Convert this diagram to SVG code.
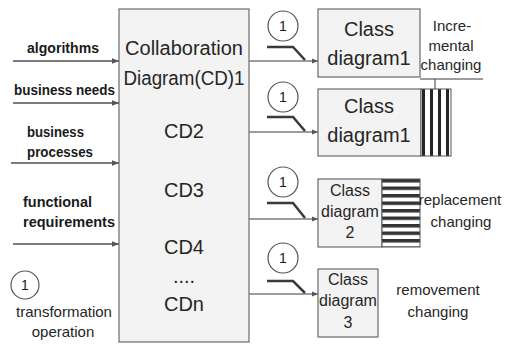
<svg xmlns="http://www.w3.org/2000/svg" width="508" height="345" viewBox="0 0 508 345">
<defs>
<style>
.box{fill:#f3f3f3;stroke:#6b6b6b;stroke-width:1.2}
.big{font-family:"Liberation Sans",Arial,sans-serif;font-size:20px;fill:#262626;text-anchor:middle}
.mid{font-family:"Liberation Sans",Arial,sans-serif;font-size:16px;fill:#262626;text-anchor:middle}
.lbl{font-family:"Liberation Sans",Arial,sans-serif;font-size:15px;font-weight:bold;fill:#1a1a1a}
.note{font-family:"Liberation Sans",Arial,sans-serif;font-size:15px;fill:#262626;text-anchor:middle}
.conn{stroke:#3a3a3a;stroke-width:1;fill:none}
.inp{stroke:#505050;stroke-width:1.3;fill:none}
.sym{stroke:#3a3a3a;stroke-width:2.5;fill:none}
.circ{fill:#ffffff;stroke:#555;stroke-width:1.2}
.num{font-family:"Liberation Sans",Arial,sans-serif;font-size:14px;fill:#1a1a1a;text-anchor:middle}
</style>
<marker id="ah" viewBox="0 0 10 10" refX="10" refY="5" markerWidth="6" markerHeight="6" markerUnits="userSpaceOnUse" orient="auto">
<path d="M0,1 L10,5 L0,9 z" fill="#555"/>
</marker>
<marker id="ah2" viewBox="0 0 10 10" refX="10" refY="5" markerWidth="8" markerHeight="7" markerUnits="userSpaceOnUse" orient="auto">
<path d="M0,1 L10,5 L0,9 z" fill="#555"/>
</marker>
<pattern id="vstripe" x="421" y="0" width="8" height="10" patternUnits="userSpaceOnUse">
<rect width="8" height="10" fill="#fff"/>
<rect x="1" width="3" height="10" fill="#262626"/>
</pattern>
<pattern id="hstripe" x="0" y="179" width="10" height="7.5" patternUnits="userSpaceOnUse">
<rect width="10" height="7.5" fill="#fff"/>
<rect y="0" width="10" height="3.5" fill="#333"/>
</pattern>
</defs>

<g id="connectors">
<line class="inp" x1="13" y1="61" x2="119" y2="61" marker-end="url(#ah2)"/>
<line class="inp" x1="13" y1="103" x2="119" y2="103" marker-end="url(#ah2)"/>
<line class="inp" x1="11" y1="163" x2="119" y2="163" marker-end="url(#ah2)"/>
<line class="inp" x1="13" y1="244" x2="119" y2="244" marker-end="url(#ah2)"/>
<line class="conn" x1="249" y1="61" x2="318" y2="61" marker-end="url(#ah)"/>
<line class="conn" x1="249" y1="132" x2="318" y2="132" marker-end="url(#ah)"/>
<line class="conn" x1="249" y1="219" x2="318" y2="219" marker-end="url(#ah)"/>
<line class="conn" x1="249" y1="294" x2="318" y2="294" marker-end="url(#ah)"/>
<polyline class="conn" points="420,79 483,79"/>
<polyline class="conn" points="435,79 435,89"/>
</g>

<g id="inputs">
<text class="lbl" x="27" y="53" textLength="72" lengthAdjust="spacingAndGlyphs">algorithms</text>
<text class="lbl" x="14" y="95" textLength="101" lengthAdjust="spacingAndGlyphs">business needs</text>
<text class="lbl" x="27" y="137" textLength="57" lengthAdjust="spacingAndGlyphs">business</text>
<text class="lbl" x="27" y="157" textLength="66" lengthAdjust="spacingAndGlyphs">processes</text>
<text class="lbl" x="23" y="207" textLength="69" lengthAdjust="spacingAndGlyphs">functional</text>
<text class="lbl" x="23" y="227" textLength="92" lengthAdjust="spacingAndGlyphs">requirements</text>
</g>

<g id="main">
<rect class="box" x="119" y="9" width="130" height="333"/>
<text class="big" x="184" y="55">Collaboration</text>
<text class="big" x="184" y="85" textLength="121" lengthAdjust="spacingAndGlyphs">Diagram(CD)1</text>
<text class="big" x="184" y="138">CD2</text>
<text class="big" x="184" y="197">CD3</text>
<text class="big" x="184" y="254">CD4</text>
<text class="big" x="184" y="283">....</text>
<text class="big" x="184" y="311">CDn</text>
</g>

<g id="op1">
<circle class="circ" cx="283" cy="26" r="15"/>
<text class="num" x="283" y="31">1</text>
<polyline class="sym" points="267,47 293,47 305,60"/>
</g>
<g id="op2">
<circle class="circ" cx="283" cy="97" r="15"/>
<text class="num" x="283" y="102">1</text>
<polyline class="sym" points="267,117 293,117 305,131"/>
</g>
<g id="op3">
<circle class="circ" cx="283" cy="182" r="15"/>
<text class="num" x="283" y="187">1</text>
<polyline class="sym" points="267,203 293,203 305,218"/>
</g>
<g id="op4">
<circle class="circ" cx="283" cy="258" r="15"/>
<text class="num" x="283" y="263">1</text>
<polyline class="sym" points="267,281 293,281 305,293"/>
</g>

<g id="class1">
<rect class="box" x="318" y="9" width="102" height="68"/>
<text class="big" x="369" y="36">Class</text>
<text class="big" x="369" y="65">diagram1</text>
</g>
<g id="note1">
<text class="note" x="452" y="31">Incre-</text>
<text class="note" x="451" y="51">mental</text>
<text class="note" x="451" y="70">changing</text>
</g>

<g id="class1b">
<rect class="box" x="318" y="89" width="103" height="67"/>
<text class="big" x="369" y="113">Class</text>
<text class="big" x="369" y="142">diagram1</text>
<rect x="421" y="89" width="30" height="67" fill="url(#vstripe)" stroke="#555" stroke-width="1"/>
</g>

<g id="class2">
<rect class="box" x="318" y="179" width="64" height="68"/>
<text class="mid" x="350" y="196">Class</text>
<text class="mid" x="350" y="217">diagram</text>
<text class="mid" x="350" y="238">2</text>
<rect x="382" y="179" width="38" height="68" fill="url(#hstripe)" stroke="#555" stroke-width="1"/>
</g>
<g id="note2">
<text class="note" x="460" y="205">replacement</text>
<text class="note" x="461" y="227">changing</text>
</g>

<g id="class3">
<rect class="box" x="318" y="269" width="60" height="68"/>
<text class="mid" x="348" y="285">Class</text>
<text class="mid" x="348" y="306">diagram</text>
<text class="mid" x="348" y="328">3</text>
</g>
<g id="note3">
<text class="note" x="438" y="295">removement</text>
<text class="note" x="438" y="317">changing</text>
</g>

<g id="legend">
<circle class="circ" cx="25" cy="285" r="14"/>
<text class="num" x="25" y="290">1</text>
<text class="note" x="64" y="317">transformation</text>
<text class="note" x="63" y="337">operation</text>
</g>
</svg>
